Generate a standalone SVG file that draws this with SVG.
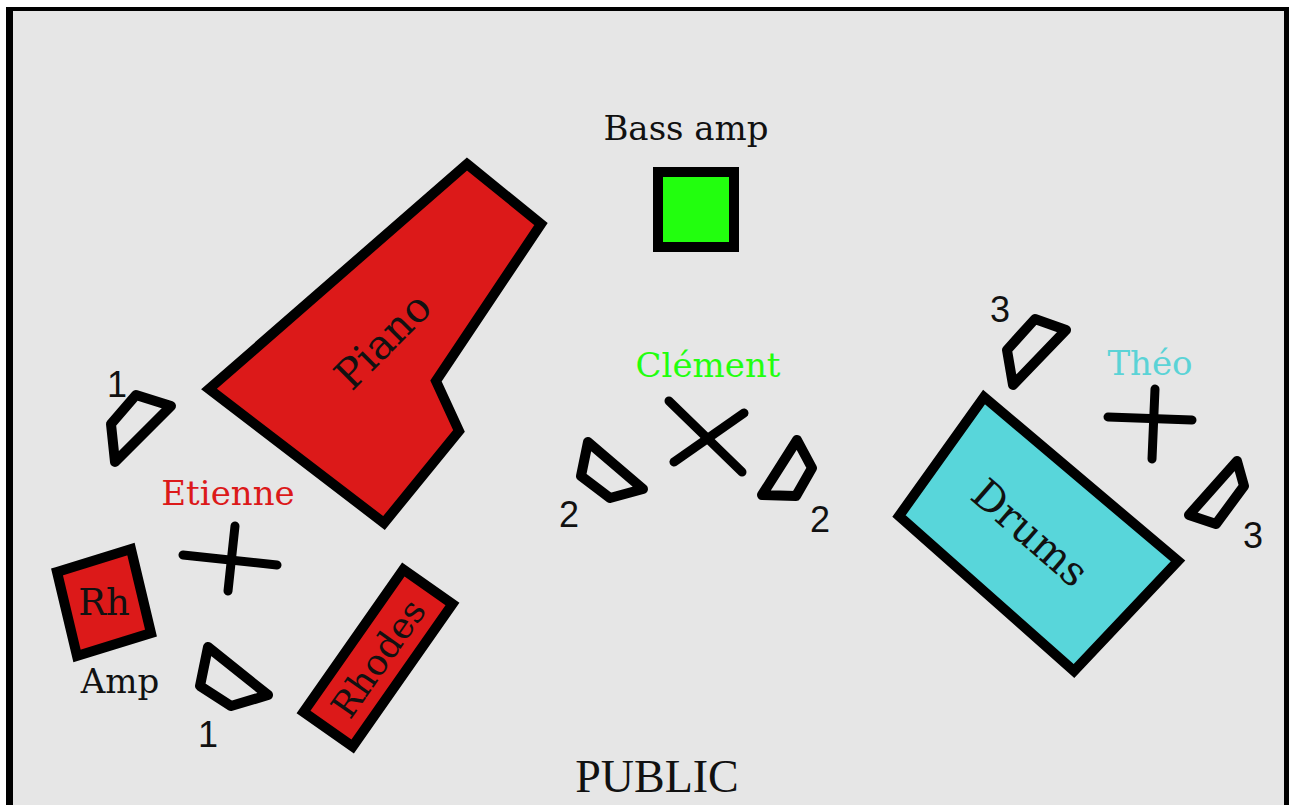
<svg xmlns="http://www.w3.org/2000/svg" width="1289" height="805" viewBox="0 0 1289 805">
  <style>
    .lbl { font-family: "DejaVu Serif", "Liberation Serif", serif; font-size: 34px; text-anchor: middle; fill: #111; }
    .num { font-family: "Liberation Sans", Arial, sans-serif; font-size: 36px; text-anchor: middle; fill: #111; }
    .inst { stroke: #000; stroke-width: 10; stroke-linejoin: miter; }
    .mic { fill: none; stroke: #000; stroke-width: 10; stroke-linejoin: round; }
    .x { stroke: #000; stroke-width: 9; stroke-linecap: round; fill: none; }
    .red { fill: #dc1919; }
  </style>
  <rect x="0" y="0" width="1289" height="805" fill="#ffffff"/>
  <rect x="6" y="7" width="1283" height="810" fill="#000000"/>
  <rect x="13" y="11" width="1271" height="800" fill="#e6e6e6"/>

  <g id="piano">
    <polygon class="inst red" points="467,164 541,224 436,381 459,431 384,523 209,389"/>
    <text class="lbl" transform="translate(383,341) rotate(-45)" y="14" style="font-size:41px">Piano</text>
  </g>

  <g id="bass-amp">
    <text class="lbl" x="686" y="140">Bass amp</text>
    <rect class="inst" x="658" y="172" width="76" height="75" fill="#22ff0e"/>
  </g>

  <g id="rh-amp">
    <polygon class="inst red" points="57,572 131,549 151,633 77,656"/>
    <text class="lbl" x="104" y="615" style="font-size:37px">Rh</text>
    <text class="lbl" x="120" y="693">Amp</text>
  </g>

  <g id="rhodes">
    <g transform="translate(378,658) rotate(-55)">
      <rect class="inst red" x="-87" y="-30" width="174" height="60"/>
      <text class="lbl" x="0" y="13" style="font-size:36px">Rhodes</text>
    </g>
  </g>

  <g id="drums">
    <polygon class="inst" points="984,397 1178,561 1074,671 899,516" fill="#58d6da"/>
    <text class="lbl" transform="translate(1030,533) rotate(41)" y="14" style="font-size:41px">Drums</text>
  </g>

  <g id="etienne">
    <text class="lbl" x="228" y="505" style="fill:#dc1919">Etienne</text>
    <line class="x" x1="183" y1="555" x2="277" y2="565"/>
    <line class="x" x1="235" y1="526" x2="228" y2="591"/>
  </g>

  <g id="clement">
    <text class="lbl" x="708" y="377" style="fill:#22ff0e">Clément</text>
    <line class="x" x1="669" y1="401" x2="742" y2="472"/>
    <line class="x" x1="744" y1="413" x2="674" y2="462"/>
  </g>

  <g id="theo">
    <text class="lbl" x="1150" y="375" style="fill:#5bd3d6">Théo</text>
    <line class="x" x1="1108" y1="417" x2="1192" y2="420"/>
    <line class="x" x1="1155" y1="389" x2="1152" y2="459"/>
  </g>

  <g id="monitors">
    <g id="mon-1a">
      <polygon class="mic" points="136,395 171,406 115,462 111,424"/>
      <text class="num" x="117" y="397">1</text>
    </g>
    <g id="mon-1b">
      <polygon class="mic" points="208,647 200,686 231,706 268,695"/>
      <text class="num" x="208" y="747">1</text>
    </g>
    <g id="mon-2a">
      <polygon class="mic" points="588,442 581,476 610,498 643,489"/>
      <text class="num" x="569" y="527">2</text>
    </g>
    <g id="mon-2b">
      <polygon class="mic" points="797,440 812,468 796,496 762,495"/>
      <text class="num" x="820" y="532">2</text>
    </g>
    <g id="mon-3a">
      <polygon class="mic" points="1035,319 1066,330 1013,385 1007,350"/>
      <text class="num" x="1000" y="322">3</text>
    </g>
    <g id="mon-3b">
      <polygon class="mic" points="1237,461 1244,486 1216,524 1189,515"/>
      <text class="num" x="1253" y="548">3</text>
    </g>
  </g>

  <g id="connectors"></g>

  <text x="657" y="792" style="font-family:'Liberation Serif','DejaVu Serif',serif;font-size:46px;text-anchor:middle;fill:#111">PUBLIC</text>
</svg>
